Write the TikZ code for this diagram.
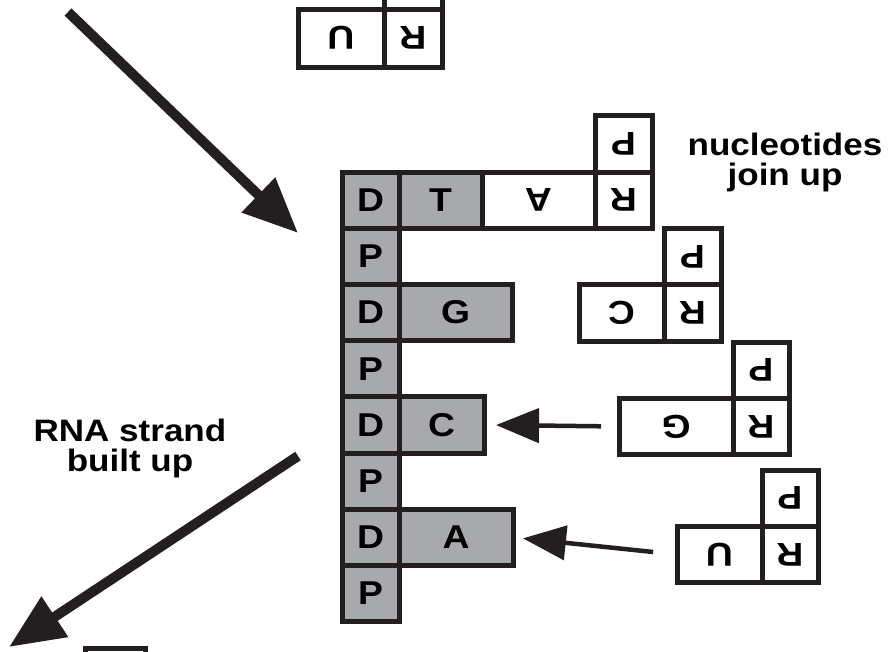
\documentclass[tikz,border=0pt]{standalone}
\usepackage{fontspec}
\usepackage{xcolor}
\definecolor{ink_dark}{RGB}{35,31,32}
\definecolor{grey_box}{RGB}{167,169,172}
\newfontfamily\labelfont[FakeStretch=1.13]{Liberation Sans}
\newcommand{\boxfont}{\labelfont\bfseries\fontsize{33}{33}\selectfont}
\newcommand{\notefont}{\labelfont\bfseries\fontsize{31}{30}\selectfont}
\newcommand{\upsd}[1]{\rotatebox{180}{#1}}
\usetikzlibrary{arrows.meta,positioning}

\begin{document}
\begin{tikzpicture}
[	x=1pt, y=-1pt,
	cell/.style = {rectangle, draw=ink_dark, line width=5pt, outer sep=0pt, inner sep=0pt, minimum height=56.2pt, font=\boxfont},
	strand/.style = {cell, fill=grey_box, minimum width=57pt},
	free/.style = {cell, fill=white},
	bigarrow/.style = {draw=ink_dark, line width=10pt, -{Triangle[length=55pt,width=46pt]}},
	smallarrow/.style = {draw=ink_dark, line width=4.5pt, -{Triangle[length=43pt,width=34pt]}}
]
\useasboundingbox (0,0) rectangle (891,651);
\clip (0,0) rectangle (891,651);

% strand being built
\node[strand] (d0) at (370.5,200.1) {D};
\node[strand, minimum width=83pt, right=0 of d0] (t0) {T};
\node[free, minimum width=113pt, right=0 of t0] (a0) {\upsd{A}};
\node[free, minimum width=57pt, right=0 of a0] (r0) {\upsd{R}};
\node[free, minimum width=57pt, above=0 of r0] (p0) {\upsd{P}};
\node[strand, below=0 of d0] (p1) {P};
\node[strand, below=0 of p1] (d2) {D};
\node[strand, minimum width=113pt, right=0 of d2] (g2) {G};
\node[strand, below=0 of d2] (p3) {P};
\node[strand, below=0 of p3] (d4) {D};
\node[strand, minimum width=85pt, right=0 of d4] (c4) {C};
\node[strand, below=0 of d4] (p5) {P};
\node[strand, below=0 of p5] (d6) {D};
\node[strand, minimum width=114pt, right=0 of d6] (a6) {A};
\node[strand, below=0 of d6] (p7) {P};

% free nucleotides
\node[free, minimum width=86pt, minimum height=58pt] (u8) at (341,38) {\upsd{U}};
\node[free, minimum width=58pt, minimum height=58pt, right=0 of u8] (r8) {\upsd{R}};
\node[free, minimum width=58pt, minimum height=58pt, above=0 of r8] (p8) {};

\node[free, minimum width=85pt] (c9) at (621.5,313) {\upsd{C}};
\node[free, minimum width=57pt, right=0 of c9] (r9) {\upsd{R}};
\node[free, minimum width=57pt, above=0 of r9] (p9) {\upsd{P}};

\node[free, minimum width=114pt] (g10) at (676,426.5) {\upsd{G}};
\node[free, minimum width=56pt, right=0 of g10] (r10) {\upsd{R}};
\node[free, minimum width=56pt, above=0 of r10] (p10) {\upsd{P}};

\node[free, minimum width=85pt] (u11) at (719.5,554.5) {\upsd{U}};
\node[free, minimum width=56pt, right=0 of u11] (r11) {\upsd{R}};
\node[free, minimum width=56pt, above=0 of r11] (p11) {\upsd{P}};

\node[free, minimum width=60pt] (cut) at (115,676.1) {};

% labels
\node[font=\notefont, align=center] (join) at (785,162) {nucleotides\\join up};
\node[font=\notefont, align=center] (built) at (130,448) {RNA strand\\built up};

% arrows
\coordinate (in_start) at (68,12);
\coordinate (in_end) at (298,233);
\coordinate (out_start) at (298,456);
\coordinate (out_end) at (9,647);
\draw[bigarrow] (in_start) -- (in_end);
\draw[bigarrow] (out_start) -- (out_end);
\draw[smallarrow, shorten <=18pt, shorten >=12pt] (g10.west) -- (c4.east);
\draw[smallarrow, shorten <=24pt, shorten >=10pt] (u11.west) -- (a6.east);

\end{tikzpicture}
\end{document}
